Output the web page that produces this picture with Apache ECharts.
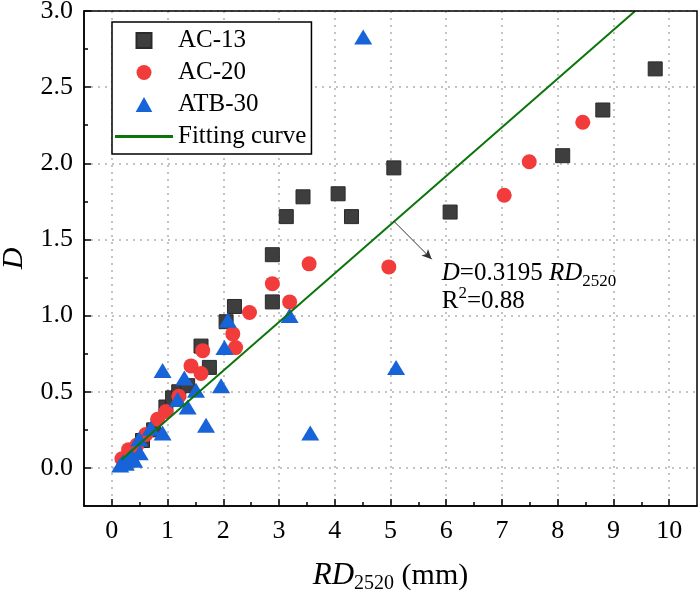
<!DOCTYPE html>
<html>
<head>
<meta charset="utf-8">
<script src="https://cdn.jsdelivr.net/npm/echarts@6/dist/echarts.min.js"></script>
<style>
html,body{margin:0;padding:0;background:#fff;}
#chart{width:700px;height:600px;}
</style>
</head>
<body>
<div id="chart"></div>
<script>
// ---- data ----
var seriesNames = ['AC-13', 'AC-20', 'ATB-30', 'Fitting curve'];
var ac13 = [[0.25,0.05],[0.35,0.10],[0.55,0.18],[0.75,0.25],[0.97,0.40],[1.09,0.46],[1.20,0.50],[1.36,0.54],
  [1.60,0.80],[1.75,0.66],[2.05,0.96],[2.20,1.06],[2.88,1.09],[2.88,1.40],[3.13,1.65],[3.43,1.78],[4.06,1.80],
  [4.30,1.65],[5.06,1.97],[6.07,1.68],[8.09,2.05],[8.81,2.35],[9.75,2.62]];
var ac20 = [[0.18,0.06],[0.30,0.12],[0.45,0.15],[0.61,0.22],[0.82,0.32],[0.97,0.37],[1.20,0.47],[1.42,0.67],
  [1.60,0.62],[1.63,0.77],[2.17,0.88],[2.22,0.79],[2.47,1.02],[2.88,1.21],[3.19,1.09],[3.54,1.34],[4.97,1.32],
  [7.04,1.79],[7.49,2.01],[8.45,2.27]];
var atb30 = [[0.15,0.02],[0.20,0.04],[0.25,0.03],[0.30,0.06],[0.35,0.08],[0.40,0.05],[0.50,0.10],[0.49,0.19],
  [0.70,0.26],[0.91,0.23],[0.91,0.64],[1.18,0.45],[1.30,0.59],[1.36,0.40],[1.51,0.51],[1.69,0.28],[1.96,0.54],
  [2.02,0.79],[2.08,0.97],[3.19,1.00],[3.56,0.23],[4.51,2.83],[5.10,0.66]];
var fitX = [0.17, 9.39];
var fitY = [0.054, 3.0];
var xTicks = [0,1,2,3,4,5,6,7,8,9,10];
var xMinorTicks = [0.5,1.5,2.5,3.5,4.5,5.5,6.5,7.5,8.5,9.5];
var yTicks = [0,0.5,1.0,1.5,2.0,2.5,3.0];
var yMinorTicks = [0.25,0.75,1.25,1.75,2.25,2.75];
var xRange = [-0.5, 10.5];
var yRange = [-0.25, 3.0];
var arrowFrom = [5.06, 1.62];
var arrowTo = [5.74, 1.37];
var eqAnchor = [5.92, 1.28];
var r2Anchor = [5.92, 1.09];

// ---- chart ----
var FONT = '"Liberation Serif", "Times New Roman", serif';
var chart = echarts.init(document.getElementById('chart'), null, {renderer: 'canvas'});
var gridLine = {show: true, lineStyle: {color: '#b0b0b0', width: 1.5, type: [2, 5]}};
var blackLine = {color: '#000', width: 1.5};

function xAxisMain() {
  return {
    type: 'value', gridIndex: 0, position: 'bottom', min: xRange[0], max: xRange[1], interval: 0.5,
    name: '{i|RD}{s|2520}{n| (mm)}', nameLocation: 'middle', nameGap: 52,
    nameTextStyle: {
      rich: {
        i: {fontFamily: FONT, fontStyle: 'italic', fontSize: 31, color: '#000', lineHeight: 36},
        s: {fontFamily: FONT, fontSize: 20, color: '#000', lineHeight: 18, verticalAlign: 'bottom'},
        n: {fontFamily: FONT, fontSize: 30, color: '#000', lineHeight: 36}
      }
    },
    axisLine: {show: true, onZero: false, lineStyle: blackLine},
    axisTick: {show: true, inside: true, length: 7, customValues: xTicks, lineStyle: blackLine},
    axisLabel: {show: true, customValues: xTicks, margin: 12, fontFamily: FONT, fontSize: 26, color: '#000',
      formatter: function (v) { return String(Math.round(v)); }},
    splitLine: gridLine
  };
}
function xAxisMinor() {
  return {
    type: 'value', gridIndex: 0, position: 'bottom', min: xRange[0], max: xRange[1], interval: 0.5,
    axisLine: {show: false, onZero: false},
    axisTick: {show: true, inside: true, length: 4, customValues: xMinorTicks, lineStyle: blackLine},
    axisLabel: {show: false}, splitLine: {show: false}
  };
}
function yAxisMain() {
  return {
    type: 'value', gridIndex: 0, position: 'left', min: yRange[0], max: yRange[1], interval: 0.25,
    name: 'D', nameLocation: 'middle', nameGap: 54, nameRotate: 90,
    nameTextStyle: {fontFamily: FONT, fontStyle: 'italic', fontSize: 30, color: '#000'},
    axisLine: {show: true, onZero: false, lineStyle: blackLine},
    axisTick: {show: true, inside: true, length: 7, customValues: yTicks, lineStyle: blackLine},
    axisLabel: {show: true, customValues: yTicks, margin: 11, fontFamily: FONT, fontSize: 26, color: '#000',
      formatter: function (v) { return v.toFixed(1); }},
    splitLine: gridLine
  };
}
function yAxisMinor() {
  return {
    type: 'value', gridIndex: 0, position: 'left', min: yRange[0], max: yRange[1], interval: 0.25,
    axisLine: {show: false, onZero: false},
    axisTick: {show: true, inside: true, length: 4, customValues: yMinorTicks, lineStyle: blackLine},
    axisLabel: {show: false}, splitLine: {show: false}
  };
}

var option = {
  animation: false,
  backgroundColor: '#fff',
  grid: {left: 84, right: 3, top: 11, bottom: 94, show: true, borderColor: '#000', borderWidth: 1.5,
    backgroundColor: 'transparent', outerBoundsMode: 'none', containLabel: false, z: 5},
  legend: {
    orient: 'vertical', left: 112, top: 22, itemWidth: 58, itemHeight: 15, itemGap: 7,
    padding: [6, 5, 5, 3], borderColor: '#000', borderWidth: 1.5, backgroundColor: '#fff',
    textStyle: {fontFamily: FONT, fontSize: 25, color: '#000'},
    data: [
      {name: seriesNames[0], icon: 'path://M0,0H10V10H0Z'},
      {name: seriesNames[1], icon: 'circle'},
      {name: seriesNames[2], icon: 'path://M5,0L10,9H0Z'},
      {name: seriesNames[3], icon: 'path://M0,0H58V3H0Z'}
    ]
  },
  xAxis: [xAxisMain(), xAxisMinor()],
  yAxis: [yAxisMain(), yAxisMinor()],
  series: [
    {name: seriesNames[0], type: 'scatter', xAxisIndex: 0, yAxisIndex: 0, symbol: 'rect', symbolSize: 14,
      itemStyle: {color: '#3e3e3e', borderColor: '#2a2a2a', borderWidth: 1, opacity: 1}, data: ac13},
    {name: seriesNames[1], type: 'scatter', xAxisIndex: 0, yAxisIndex: 0, symbol: 'circle', symbolSize: 15,
      itemStyle: {color: '#f23b3b', opacity: 1}, data: ac20},
    {name: seriesNames[2], type: 'scatter', xAxisIndex: 0, yAxisIndex: 0, symbol: 'triangle', symbolSize: [18, 15],
      itemStyle: {color: '#1763d8', opacity: 1}, data: atb30},
    {name: seriesNames[3], type: 'line', xAxisIndex: 0, yAxisIndex: 0, symbol: 'none', showSymbol: false,
      lineStyle: {color: '#0b750b', width: 2}, itemStyle: {color: '#0b750b'},
      data: fitX.map(function (x, i) { return [x, fitY[i]]; }),
      markLine: {
        silent: true, symbol: ['none', 'arrow'], symbolSize: [7, 10],
        lineStyle: {color: '#333', width: 1, type: 'solid'}, label: {show: false},
        emphasis: {disabled: true},
        data: [[{coord: arrowFrom}, {coord: arrowTo}]]
      }
    }
  ]
};
chart.setOption(option);

var p1 = chart.convertToPixel({gridIndex: 0}, eqAnchor);
var p2 = chart.convertToPixel({gridIndex: 0}, r2Anchor);
var richStyle = {
  i: {fontFamily: FONT, fontStyle: 'italic', fontSize: 25, fill: '#000', lineHeight: 34},
  n: {fontFamily: FONT, fontSize: 25, fill: '#000', lineHeight: 34},
  s: {fontFamily: FONT, fontSize: 17, fill: '#000', lineHeight: 17, verticalAlign: 'bottom'},
  p: {fontFamily: FONT, fontSize: 17, fill: '#000', lineHeight: 17, verticalAlign: 'top'}
};
chart.setOption({
  graphic: [
    {type: 'text', x: p1[0], y: p1[1], silent: true, z: 100,
      style: {text: '{i|D}{n|=0.3195 }{i|RD}{s|2520}', rich: richStyle, verticalAlign: 'middle', align: 'left'}},
    {type: 'text', x: p2[0], y: p2[1], silent: true, z: 100,
      style: {text: '{n|R}{p|2}{n|=0.88}', rich: richStyle, verticalAlign: 'middle', align: 'left'}}
  ]
});
</script>
</body>
</html>
